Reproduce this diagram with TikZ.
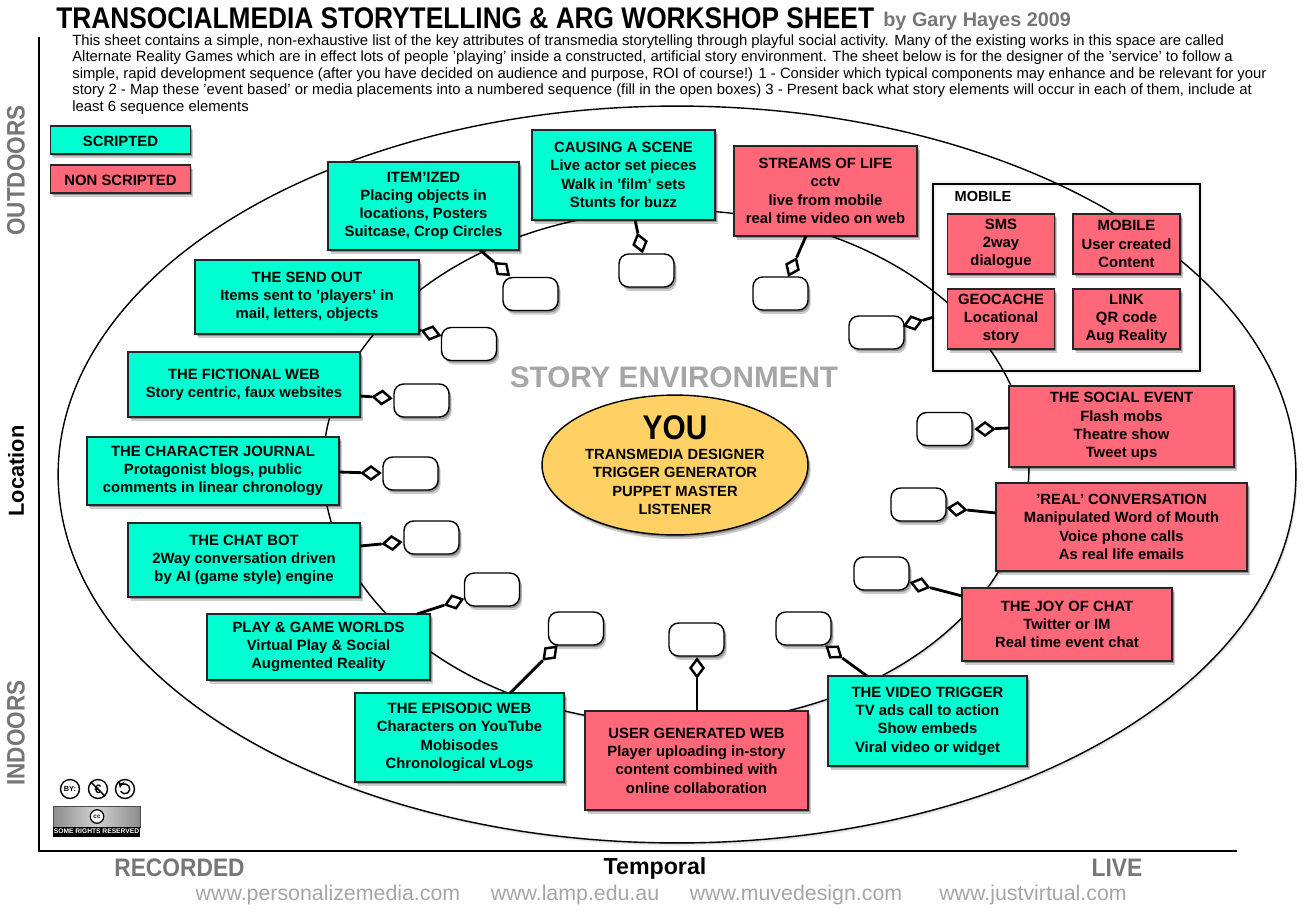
\documentclass[tikz,border=0pt]{standalone}
\usepackage{fontspec}
\setmainfont{Liberation Sans}
\usepackage{tikz}
\usetikzlibrary{shapes,arrows,backgrounds,positioning,fit,calc,shadows}
\definecolor{scriptcol}{RGB}{0,255,209}
\definecolor{noscriptcol}{RGB}{255,104,120}
\definecolor{youcol}{RGB}{255,209,100}
\definecolor{greytxt}{RGB}{118,118,118}
\definecolor{urltxt}{RGB}{165,165,165}
\tikzset{
  softshadow/.style={drop shadow={shadow xshift=1pt,shadow yshift=-1.2pt,opacity=.28,fill=black},
    drop shadow={shadow xshift=1.5pt,shadow yshift=-2.4pt,opacity=.2,fill=black}},
  faintshadow/.style={drop shadow={shadow xshift=1pt,shadow yshift=-1.6pt,opacity=.08,fill=black},
    drop shadow={shadow xshift=.5pt,shadow yshift=-.8pt,opacity=.08,fill=black}},
  card/.style={draw=black!85,line width=.8pt,rectangle,align=center,inner sep=0pt,softshadow,
    font=\fontsize{8.45}{10.4}\selectfont\bfseries,execute at begin node={\rule{0pt}{7pt}}},
  script/.style={card,fill=scriptcol},
  noscript/.style={card,fill=noscriptcol},
  pill/.style={draw,fill=white,line width=.8pt,rectangle,rounded corners=5.5pt,inner sep=0pt,
    minimum width=1.1cm,minimum height=.66cm,softshadow},
  dia/.style={draw,fill=white,diamond,line width=1.4pt,inner sep=0pt,aspect=1.3,
    minimum width=10.5pt,minimum height=8pt},
  link/.style={line width=1.6pt},
  axislabel/.style={font=\fontsize{14.4}{16}\selectfont\bfseries,text=greytxt},
  urllabel/.style={font=\fontsize{12.15}{14}\selectfont,text=urltxt},
  badge/.style={draw,circle,fill=white,line width=.8pt,minimum size=.38cm,inner sep=0pt}
}
\begin{document}
\begin{tikzpicture}[x=.02cm,y=-.02cm]
      \useasboundingbox (0,0) rectangle (1314,913);

      \coordinate (axistop) at (39,37);
      \coordinate (axisorigin) at (39,851);
      \coordinate (axisend) at (1237,851);
      \coordinate (itemout) at (480,250);
      \coordinate (sceneout) at (635,220);
      \coordinate (streamout) at (806,236);
      \coordinate (geoout) at (934,317);
      \coordinate (sendout) at (419,330);
      \coordinate (fictout) at (360,396);
      \coordinate (charout) at (339,472);
      \coordinate (chatout) at (360,546);
      \coordinate (playout) at (417,614);
      \coordinate (episout) at (510,693);
      \coordinate (userout) at (697,711);
      \coordinate (videoout) at (867,676);
      \coordinate (joyout) at (962,596);
      \coordinate (realout) at (996,513);
      \coordinate (socialout) at (1009,428);

      % title and notes
      \node[anchor=west,inner sep=0pt,font=\fontsize{17}{18}\selectfont\bfseries] (title) at (56,18)
        {\scalebox{.88}[1]{TRANSOCIALMEDIA STORYTELLING \& ARG WORKSHOP SHEET}};
      \node[anchor=west,inner sep=0pt,text=greytxt,font=\fontsize{11.3}{12}\selectfont\bfseries] (byline) at (883,21)
        {by Gary Hayes 2009};
      \node[anchor=north west,inner sep=0pt,align=left,font=\fontsize{8.44}{9.4}\selectfont] (notes) at (72,34)
        {This sheet contains a simple, non-exhaustive list of the key attributes of transmedia storytelling through playful social activity. Many of the existing works in this space are called\\
         Alternate Reality Games which are in effect lots of people 'playing' inside a constructed, artificial story environment. The sheet below is for the designer of the 'service' to follow a\\
         simple, rapid development sequence (after you have decided on audience and purpose, ROI of course!) 1 - Consider which typical components may enhance and be relevant for your\\
         story 2 - Map these 'event based' or media placements into a numbered sequence (fill in the open boxes) 3 - Present back what story elements will occur in each of them, include at\\
         least 6 sequence elements};

      % axes
      \draw[line width=.8pt] (axistop) -- (axisorigin) -- (axisend);
      \node[axislabel,rotate=90] (outdoors) at (16,170.5) {\scalebox{.89}[1]{OUTDOORS}};
      \node[axislabel,rotate=90,text=black,font=\fontsize{12.4}{15}\selectfont\bfseries] (location) at (16,471) {Location};
      \node[axislabel,rotate=90] (indoors) at (16,733) {\scalebox{.89}[1]{INDOORS}};
      \node[axislabel] (recorded) at (179.5,868) {\scalebox{.9}[1]{RECORDED}};
      \node[axislabel,text=black,font=\fontsize{13.2}{15}\selectfont\bfseries] (temporal) at (655,868) {Temporal};
      \node[axislabel] (live) at (1117,868) {\scalebox{.9}[1]{LIVE}};
      \node[urllabel] (urla) at (328,895) {www.personalizemedia.com};
      \node[urllabel] (urlb) at (575,895) {www.lamp.edu.au};
      \node[urllabel] (urlc) at (796,895) {www.muvedesign.com};
      \node[urllabel] (urld) at (1033,895) {www.justvirtual.com};

      % the two rings
      \node[draw,ellipse,fill=white,line width=.8pt,inner sep=0pt,faintshadow,
        minimum width=24.76cm,minimum height=14.74cm] (outer) at (677,474.5) {};
      \node[draw,ellipse,fill=white,line width=.8pt,inner sep=0pt,faintshadow,
        minimum width=14.12cm,minimum height=10.28cm] (inner) at (676,467) {};

      \node[inner sep=0pt,text=black!35,font=\fontsize{16.9}{20}\selectfont\bfseries] (story) at (674,377) {STORY ENVIRONMENT};
      \node[draw,ellipse,fill=youcol,line width=.8pt,inner sep=0pt,align=center,softshadow,
        minimum width=5.32cm,minimum height=2.54cm,font=\fontsize{8.4}{10.4}\selectfont\bfseries] (you) at (675,465)
        {\scalebox{.87}[1]{\fontsize{19.5}{20}\selectfont YOU}\\[1pt] TRANSMEDIA DESIGNER\\ TRIGGER GENERATOR\\ PUPPET MASTER\\ LISTENER};

      % legend
      \node[script,minimum width=2.8cm,minimum height=.56cm] (legenda) at (120.5,140) {SCRIPTED};
      \node[noscript,minimum width=2.8cm,minimum height=.56cm] (legendb) at (120.5,179) {NON SCRIPTED};

      % mobile group
      \node[draw,line width=.8pt,minimum width=5.34cm,minimum height=3.74cm,inner sep=0pt,
        preaction={draw=black,draw opacity=.05,line width=3pt}] (frame) at (1066.5,277.5) {};
      \node[inner sep=0pt,font=\fontsize{8.3}{10}\selectfont\bfseries] (mobilehead) at (983,196) {MOBILE};
      \node[noscript,minimum width=2.13cm,minimum height=1.2cm] (sms) at (1001,244) {SMS\\ 2way\\ dialogue};
      \node[noscript,minimum width=2.14cm,minimum height=1.2cm] (mobile) at (1126.5,244) {MOBILE\\ User created\\ Content};
      \node[noscript,minimum width=2.13cm,minimum height=1.2cm] (geo) at (1001,319) {GEOCACHE\\ Locational\\ story};
      \node[noscript,minimum width=2.14cm,minimum height=1.2cm] (linkbox) at (1126.5,319) {LINK\\ QR code\\ Aug Reality};

      % scripted cards
      \node[script,minimum width=3.82cm,minimum height=1.76cm] (item) at (423.5,206) {ITEM'IZED\\ Placing objects in\\ locations, Posters\\ Suitcase, Crop Circles};
      \node[script,minimum width=3.66cm,minimum height=1.8cm] (scene) at (623.5,175) {CAUSING A SCENE\\ Live actor set pieces\\ Walk in 'film' sets\\ Stunts for buzz};
      \node[script,minimum width=4.48cm,minimum height=1.48cm] (send) at (307,297) {THE SEND OUT\\ Items sent to 'players' in\\ mail, letters, objects};
      \node[script,minimum width=4.64cm,minimum height=1.3cm] (fict) at (244,384.5) {THE FICTIONAL WEB\\ Story centric, faux websites};
      \node[script,minimum width=5.04cm,minimum height=1.36cm] (char) at (213,471) {THE CHARACTER JOURNAL\\ Protagonist blogs, public\\ comments in linear chronology};
      \node[script,minimum width=4.64cm,minimum height=1.48cm] (chat) at (244,560) {THE CHAT BOT\\ 2Way conversation driven\\ by AI (game style) engine};
      \node[script,minimum width=4.46cm,minimum height=1.32cm] (play) at (318.5,647) {PLAY \& GAME WORLDS\\ Virtual Play \& Social\\ Augmented Reality};
      \node[script,minimum width=4.18cm,minimum height=1.78cm] (epis) at (459.5,737.5) {THE EPISODIC WEB\\ Characters on YouTube\\ Mobisodes\\ Chronological vLogs};
      \node[script,minimum width=3.98cm,minimum height=1.8cm] (video) at (927.5,721) {THE VIDEO TRIGGER\\ TV ads call to action\\ Show embeds\\ Viral video or widget};

      % non scripted cards
      \node[noscript,minimum width=3.66cm,minimum height=1.8cm] (stream) at (825.5,191) {STREAMS OF LIFE\\ cctv\\ live from mobile\\ real time video on web};
      \node[noscript,minimum width=4.46cm,minimum height=1.98cm] (user) at (696.5,760.5) {USER GENERATED WEB\\ Player uploading in-story\\ content combined with\\ online collaboration};
      \node[noscript,minimum width=4.2cm,minimum height=1.46cm] (joy) at (1067,624.5) {THE JOY OF CHAT\\ Twitter or IM\\ Real time event chat};
      \node[noscript,minimum width=5.02cm,minimum height=1.76cm] (real) at (1121.5,527) {'REAL' CONVERSATION\\ Manipulated Word of Mouth\\ Voice phone calls\\ As real life emails};
      \node[noscript,minimum width=4.5cm,minimum height=1.62cm] (social) at (1121.5,426.5) {THE SOCIAL EVENT\\ Flash mobs\\ Theatre show\\ Tweet ups};

      % open boxes
      \node[pill] (itemp) at (530.5,294) {};
      \node[pill] (scenep) at (646.5,270.5) {};
      \node[pill] (streamp) at (780.5,293.5) {};
      \node[pill] (geop) at (876.5,332.5) {};
      \node[pill] (sendp) at (469,344) {};
      \node[pill] (fictp) at (421.5,400.5) {};
      \node[pill] (charp) at (410.5,473.5) {};
      \node[pill] (chatp) at (431.5,537.5) {};
      \node[pill] (playp) at (492,589.5) {};
      \node[pill] (episp) at (576,628.5) {};
      \node[pill] (userp) at (696.5,639.5) {};
      \node[pill] (videop) at (803.5,628.5) {};
      \node[pill] (joyp) at (881.5,573.5) {};
      \node[pill] (realp) at (918.5,504.5) {};
      \node[pill] (socialp) at (944.5,429) {};

      % diamonds
      \node[dia,rotate=-41] (itemd) at (502,269) {};
      \node[dia,rotate=-75] (scened) at (640,243) {};
      \node[dia,rotate=66] (streamd) at (792.5,267) {};
      \node[dia,rotate=17] (geod) at (913,323) {};
      \node[dia,rotate=-15] (sendd) at (431,333) {};
      \node[dia,rotate=-5] (fictd) at (382,397.5) {};
      \node[dia] (chard) at (371,473) {};
      \node[dia,rotate=5] (chatd) at (392,543) {};
      \node[dia,rotate=18] (playd) at (454,602) {};
      \node[dia,rotate=45] (episd) at (550,653) {};
      \node[dia,rotate=90] (userd) at (697,668) {};
      \node[dia,rotate=-36] (videod) at (834,652) {};
      \node[dia,rotate=-15] (joyd) at (920,585) {};
      \node[dia,rotate=-6] (reald) at (957,509) {};
      \node[dia] (sociald) at (985,429) {};

      \draw[link] (itemout) -- (itemd);
      \draw[link] (sceneout) -- (scened);
      \draw[link] (streamout) -- (streamd);
      \draw[link] (geoout) -- (geod);
      \draw[link] (sendout) -- (sendd);
      \draw[link] (fictout) -- (fictd);
      \draw[link] (charout) -- (chard);
      \draw[link] (chatout) -- (chatd);
      \draw[link] (playout) -- (playd);
      \draw[link] (episout) -- (episd);
      \draw[link] (userout) -- (userd);
      \draw[link] (videoout) -- (videod);
      \draw[link] (joyout) -- (joyd);
      \draw[link] (realout) -- (reald);
      \draw[link] (socialout) -- (sociald);

      % licence marks
      \node[badge,font=\fontsize{4.2}{5}\selectfont\bfseries] (by) at (70,789) {BY:};
      \node[badge,font=\fontsize{7}{7}\selectfont\bfseries] (nc) at (98,789) {€};
      \draw[line width=.8pt] (nc.north west) -- (nc.south east);
      \node[badge] (sa) at (125,789) {};
      \draw[line width=.8pt,<-,>=stealth] (sa.center) ++(-5,-1) arc[start angle=170,end angle=-150,radius=2.8pt];
      \node[draw=black!70,minimum width=1.74cm,minimum height=.42cm,inner sep=0pt,left color=black!45,right color=black!45,middle color=black!18] (ccbox) at (96.5,816.5) {};
      \node[fill=black,minimum width=1.74cm,minimum height=.2cm,inner sep=0pt,text=white,font=\fontsize{3.8}{5}\selectfont\bfseries] (ccstrip) at (96.5,831.5) {SOME RIGHTS RESERVED};
      \node[draw,circle,fill=white,line width=.7pt,minimum size=.27cm,inner sep=0pt,font=\fontsize{3.6}{4}\selectfont\bfseries] (cc) at (97,816.5) {cc};
\end{tikzpicture}
\end{document}
